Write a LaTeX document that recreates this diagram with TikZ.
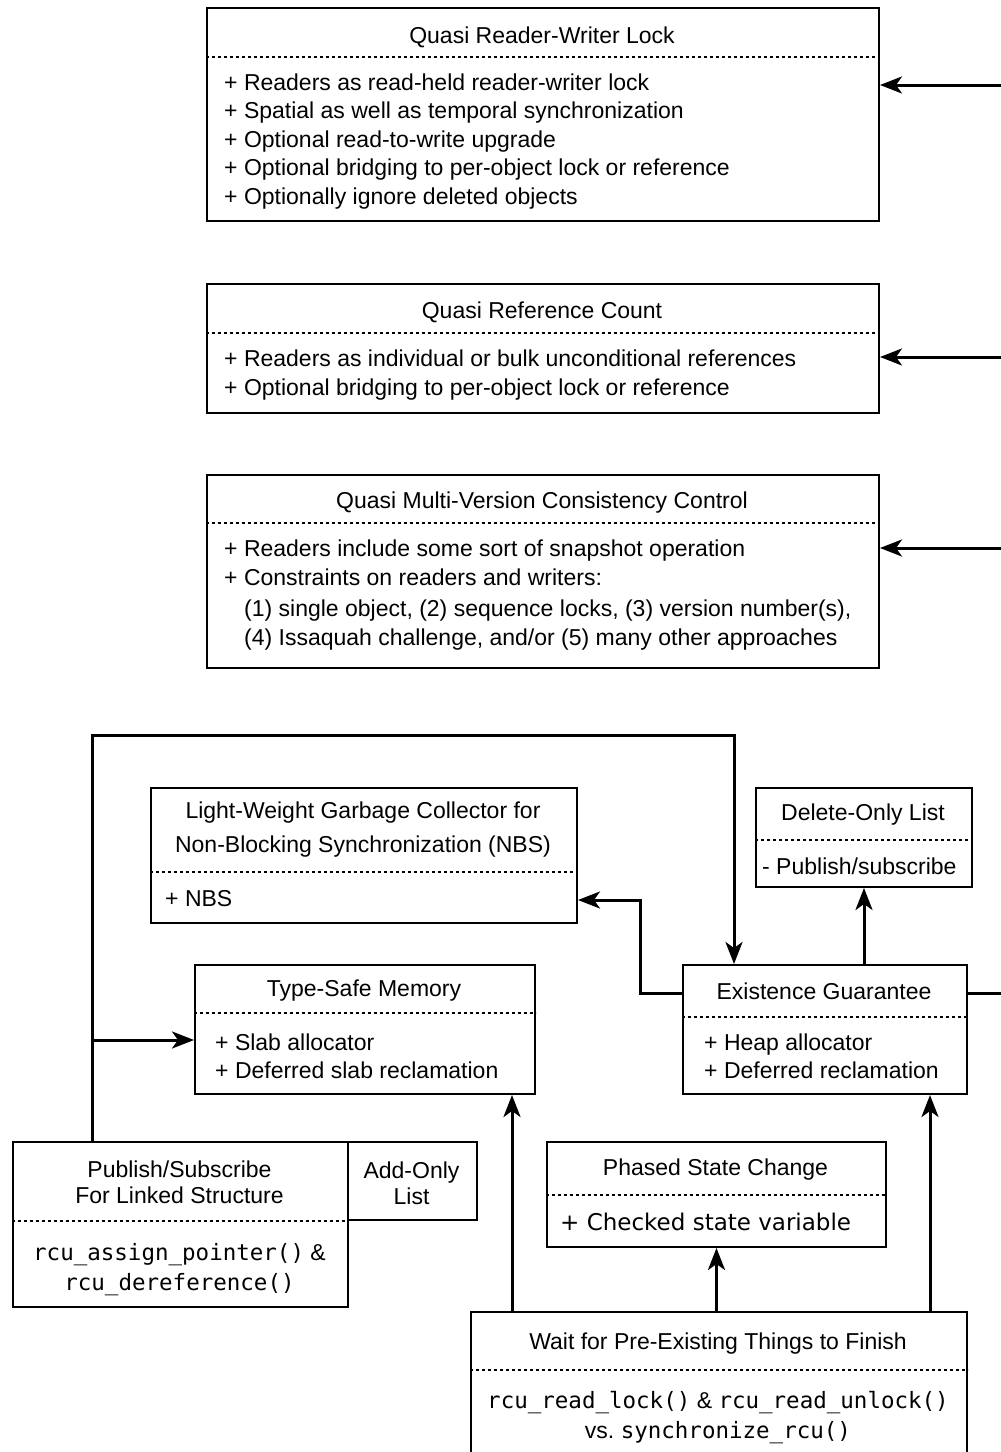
\documentclass[tikz,border=0pt]{standalone}
\usepackage{fontspec}
\setmainfont{Liberation Sans}
\newfontfamily\codefont{DejaVu Sans Mono}
\newfontfamily\plainfont{DejaVu Sans}
\usetikzlibrary{arrows.meta}

\tikzset{
  box/.style={draw, line width=2pt, rectangle, inner sep=0pt, anchor=north west},
  title/.style={anchor=base, inner sep=0pt, font=\fontsize{23}{27}\selectfont},
  item/.style={anchor=base west, inner sep=0pt, font=\fontsize{23}{27}\selectfont},
  code/.style={anchor=base, inner sep=0pt, font=\fontsize{22.5}{27}\codefont},
  sep/.style={line width=2.7pt, dash pattern=on 2.7pt off 3.3pt},
  link/.style={line width=3pt},
  arr/.style={link, -{Stealth[length=22pt,width=17pt,inset=6pt]}},
}

\begin{document}
\begin{tikzpicture}[x=1pt,y=-1pt]
  \clip (0,0) rectangle (1001,1452);

  % quasi boxes
  \node[box, minimum width=672pt, minimum height=213pt] (qrwl) at (206,7) {};
  \node[title] (qrwl-t) at (542,43) {Quasi Reader-Writer Lock};
  \draw[sep] ([yshift=-50pt]qrwl.north west) -- ([yshift=-50pt]qrwl.north east);
  \foreach \t [count=\i from 0] in {
      {+ Readers as read-held reader-writer lock},
      {+ Spatial as well as temporal synchronization},
      {+ Optional read-to-write upgrade},
      {+ Optional bridging to per-object lock or reference},
      {+ Optionally ignore deleted objects}}
    \node[item] (qrwl-\i) at (224,90+28.5*\i) {\t};

  \node[box, minimum width=672pt, minimum height=129pt] (qrc) at (206,283) {};
  \node[title] (qrc-t) at (542,318) {Quasi Reference Count};
  \draw[sep] ([yshift=-50pt]qrc.north west) -- ([yshift=-50pt]qrc.north east);
  \node[item] (qrc-0) at (224,366) {+ Readers as individual or bulk unconditional references};
  \node[item] (qrc-1) at (224,395) {+ Optional bridging to per-object lock or reference};

  \node[box, minimum width=672pt, minimum height=193pt] (qmvcc) at (206,474) {};
  \node[title] (qmvcc-t) at (542,508) {Quasi Multi-Version Consistency Control};
  \draw[sep] ([yshift=-49pt]qmvcc.north west) -- ([yshift=-49pt]qmvcc.north east);
  \node[item] (qmvcc-0) at (224,556) {+ Readers include some sort of snapshot operation};
  \node[item] (qmvcc-1) at (224,585) {+ Constraints on readers and writers:};
  \node[item] (qmvcc-2) at (244,616) {(1) single object, (2) sequence locks, (3) version number(s),};
  \node[item] (qmvcc-3) at (244,645) {(4) Issaquah challenge, and/or (5) many other approaches};

  % incoming from the right
  \foreach \b/\y in {qrwl/85, qrc/357, qmvcc/548} {
    \coordinate (\b-in) at (1001,\y);
    \draw[arr] (\b-in) -- (\b.east |- \b-in);
  }

  % lower boxes
  \node[box, minimum width=426pt, minimum height=135pt] (lwgc) at (150,787) {};
  \node[title] (lwgc-t1) at (363,818) {Light-Weight Garbage Collector for};
  \node[title] (lwgc-t2) at (363,852) {Non-Blocking Synchronization (NBS)};
  \draw[sep] ([yshift=-85pt]lwgc.north west) -- ([yshift=-85pt]lwgc.north east);
  \node[item] (lwgc-0) at (165,906) {+ NBS};

  \node[box, minimum width=216pt, minimum height=99pt] (dol) at (755,787) {};
  \node[title] (dol-t) at (863,820) {Delete-Only List};
  \draw[sep] ([yshift=-53pt]dol.north west) -- ([yshift=-53pt]dol.north east);
  \node[item] (dol-0) at (762,874) {- Publish/subscribe};

  \node[box, minimum width=340pt, minimum height=129pt] (tsm) at (194,964) {};
  \node[title] (tsm-t) at (364,996) {Type-Safe Memory};
  \draw[sep] ([yshift=-49pt]tsm.north west) -- ([yshift=-49pt]tsm.north east);
  \node[item] (tsm-0) at (215,1050) {+ Slab allocator};
  \node[item] (tsm-1) at (215,1078) {+ Deferred slab reclamation};

  \node[box, minimum width=284pt, minimum height=129pt] (eg) at (682,964) {};
  \node[title] (eg-t) at (824,999) {Existence Guarantee};
  \draw[sep] ([yshift=-53pt]eg.north west) -- ([yshift=-53pt]eg.north east);
  \node[item] (eg-0) at (704,1050) {+ Heap allocator};
  \node[item] (eg-1) at (704,1078) {+ Deferred reclamation};

  \node[box, minimum width=335pt, minimum height=165pt] (pubsub) at (12,1141) {};
  \node[title] (pubsub-t1) at (179.5,1177) {Publish/Subscribe};
  \node[title] (pubsub-t2) at (179.5,1203) {For Linked Structure};
  \draw[sep] ([yshift=-80pt]pubsub.north west) -- ([yshift=-80pt]pubsub.north east);
  \node[code] (pubsub-0) at (179.5,1260) {rcu\_assign\_pointer(){\fontsize{23}{27}\rmfamily\ \&}};
  \node[code] (pubsub-1) at (179.5,1290) {rcu\_dereference()};

  \node[box, minimum width=129pt, minimum height=78pt] (addonly) at (347,1141) {};
  \node[title] (addonly-t1) at (411.5,1178) {Add-Only};
  \node[title] (addonly-t2) at (411.5,1204) {List};

  \node[box, minimum width=339pt, minimum height=105pt] (psc) at (546,1141) {};
  \node[title] (psc-t) at (715.5,1175) {Phased State Change};
  \draw[sep] ([yshift=-54pt]psc.north west) -- ([yshift=-54pt]psc.north east);
  \node[item, font=\fontsize{23}{27}\plainfont] (psc-0) at (560,1230) {+ Checked state variable};

  \node[box, minimum width=496pt, minimum height=160pt] (wait) at (470,1311) {};
  \node[title] (wait-t) at (718,1349) {Wait for Pre-Existing Things to Finish};
  \draw[sep] ([yshift=-59pt]wait.north west) -- ([yshift=-59pt]wait.north east);
  \node[code] (wait-0) at (718,1408) {rcu\_read\_lock(){\fontsize{23}{27}\rmfamily\ \&\ }rcu\_read\_unlock()};
  \node[code] (wait-1) at (718,1438) {{\fontsize{23}{27}\rmfamily vs.\ }synchronize\_rcu()};

  % publish/subscribe loop over the top
  \coordinate (loop-l) at (92,735);
  \coordinate (loop-r) at (734,735);
  \coordinate (loop-b) at (92,1040);
  \draw[arr] (pubsub.north -| loop-l) -- (loop-l) -- (loop-r) -- (eg.north -| loop-r);
  \draw[arr] (loop-b) -- (tsm.west |- loop-b);

  % existence guarantee outputs
  \coordinate (eg-out) at (682,993);
  \coordinate (eg-bend) at (640,900);
  \draw[arr] (eg.west |- eg-out) -- (eg-bend |- eg-out) -- (eg-bend) -- (lwgc.east |- eg-bend);
  \draw[arr] (eg.north -| dol.south) -- (dol.south);
  \coordinate (eg-right) at (1001,993);
  \draw[link] (eg.east |- eg-right) -- (eg-right);

  % wait-for-readers feeds
  \coordinate (w-tsm) at (512,1311);
  \coordinate (w-eg) at (930,1311);
  \draw[arr] (wait.north -| w-tsm) -- (tsm.south -| w-tsm);
  \draw[arr] (wait.north -| psc.south) -- (psc.south);
  \draw[arr] (wait.north -| w-eg) -- (eg.south -| w-eg);
\end{tikzpicture}
\end{document}
